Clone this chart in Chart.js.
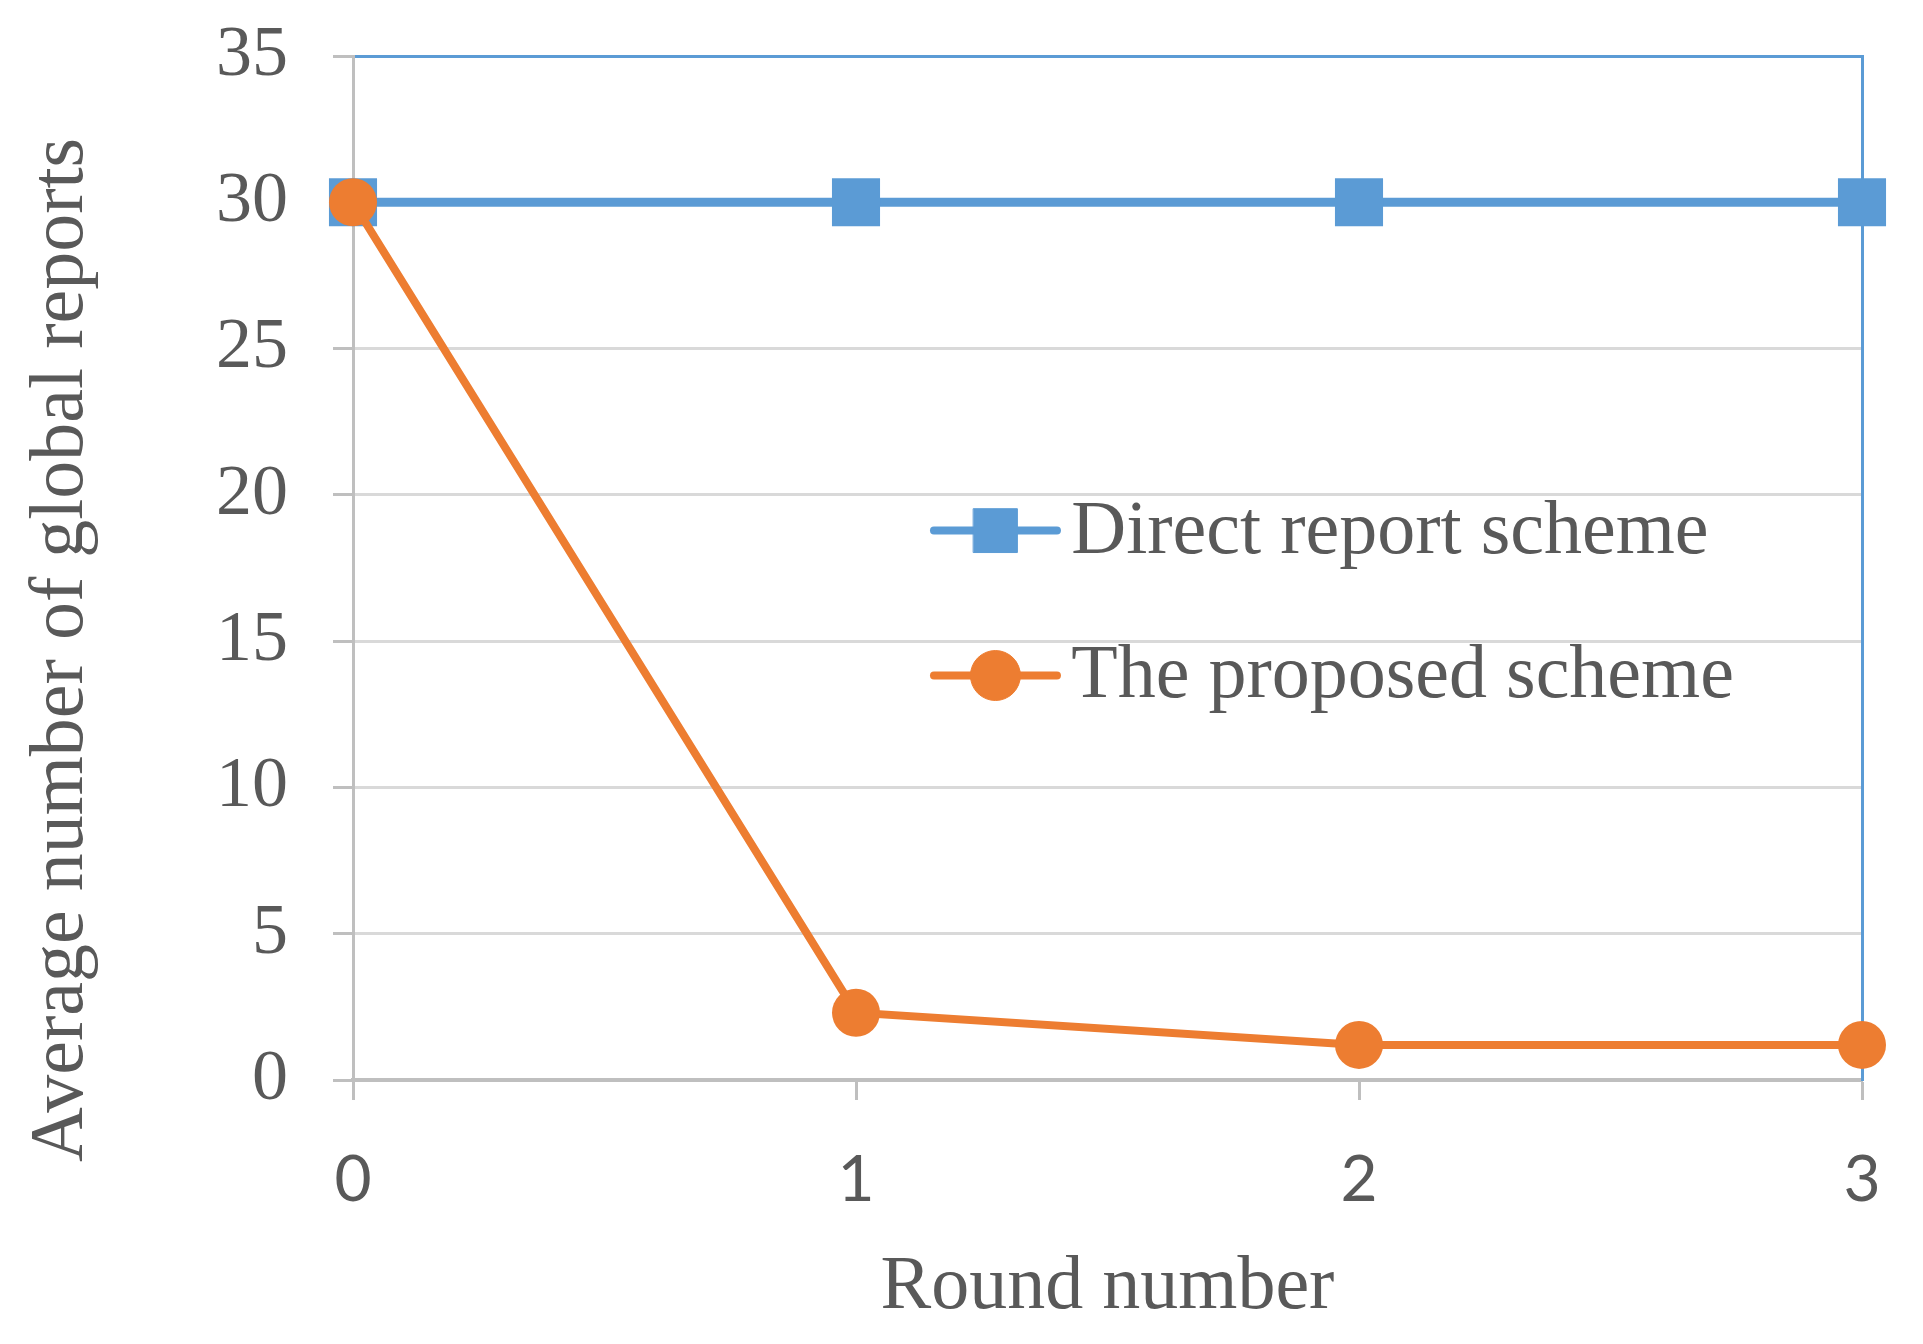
<!DOCTYPE html>
<html>
<head>
<meta charset="utf-8">
<script src="https://cdn.jsdelivr.net/npm/chart.js@4.4.1/dist/chart.umd.min.js"></script>
<style>
  html, body { margin: 0; padding: 0; background: #ffffff; }
  #wrap { width: 1923px; height: 1344px; position: relative; }
</style>
</head>
<body>
<div id="wrap"><canvas id="c" width="1923" height="1344"></canvas></div>
<script>
const roundLabels = ['0', '1', '2', '3'];
const directReport = [30, 30, 30, 30];
const proposedScheme = [30, 2.3, 1.2, 1.2];
const seriesNames = ['Direct report scheme', 'The proposed scheme'];
const yTicks = [0, 5, 10, 15, 20, 25, 30, 35];
const yTitleText = 'Average number of global reports';

const BLUE = '#5B9BD5';
const ORANGE = '#ED7D31';
const TEXT = '#595959';
const SERIF = '"Liberation Serif", "Times New Roman", serif';
const SANS = 'Lato, "Open Sans", sans-serif';

const legendPlugin = {
  id: 'customLegend',
  afterDraw(chart) {
    const ctx = chart.ctx;
    const a = chart.chartArea;
    const w = a.right - a.left, h = a.bottom - a.top;
    const rows = [
      { ds: chart.data.datasets[0], y: a.top + h * 0.4635 },
      { ds: chart.data.datasets[1], y: a.top + h * 0.605 }
    ];
    const x0 = a.left + w * 0.385, x1 = a.left + w * 0.4665, xm = (x0 + x1) / 2, xt = a.left + w * 0.476;
    ctx.save();
    rows.forEach(r => {
      ctx.strokeStyle = r.ds.borderColor;
      ctx.lineWidth = 8;
      ctx.lineCap = 'round';
      ctx.beginPath();
      ctx.moveTo(x0, r.y);
      ctx.lineTo(x1, r.y);
      ctx.stroke();
      ctx.fillStyle = r.ds.pointBackgroundColor;
      ctx.strokeStyle = r.ds.pointBackgroundColor;
      ctx.lineWidth = 1;
      const rad = r.ds.pointStyle === 'rect' ? 31 : 25;
      Chart.helpers.drawPoint(ctx, { pointStyle: r.ds.pointStyle, radius: rad, rotation: 0, borderWidth: 1 }, xm, r.y);
      ctx.fillStyle = TEXT;
      ctx.font = '76px ' + SERIF;
      ctx.textBaseline = 'middle';
      ctx.textAlign = 'left';
      ctx.fillText(r.ds.label, xt, r.y + 2);
    });
    ctx.restore();
  }
};

const yTitlePlugin = {
  id: 'yTitle',
  afterDraw(chart) {
    const ctx = chart.ctx;
    const a = chart.chartArea;
    ctx.save();
    ctx.translate(62, a.top + (a.bottom - a.top) * 0.58);
    ctx.rotate(-Math.PI / 2);
    ctx.fillStyle = TEXT;
    ctx.font = '76px ' + SERIF;
    ctx.textAlign = 'center';
    ctx.textBaseline = 'middle';
    ctx.fillText(yTitleText, 0, 0);
    ctx.restore();
  }
};

new Chart(document.getElementById('c'), {
  type: 'line',
  data: {
    labels: roundLabels,
    datasets: [
      {
        label: seriesNames[0],
        data: directReport,
        borderColor: BLUE,
        backgroundColor: BLUE,
        pointBackgroundColor: BLUE,
        pointBorderColor: BLUE,
        pointStyle: 'rect',
        pointRadius: 34,
        pointBorderWidth: 0,
        borderWidth: 9,
        tension: 0,
        clip: false,
        order: 2
      },
      {
        label: seriesNames[1],
        data: proposedScheme,
        borderColor: ORANGE,
        backgroundColor: ORANGE,
        pointBackgroundColor: ORANGE,
        pointBorderColor: ORANGE,
        pointStyle: 'circle',
        pointRadius: 24,
        pointBorderWidth: 0,
        borderWidth: 8,
        tension: 0,
        clip: false,
        order: 1
      }
    ]
  },
  options: {
    responsive: false,
    animation: false,
    devicePixelRatio: 1,
    layout: { padding: { left: 0, right: 61, top: 56, bottom: 0 } },
    plugins: { legend: { display: false }, tooltip: { enabled: false } },
    scales: {
      x: {
        type: 'category',
        offset: false,
        position: 'bottom',
        border: { display: true, color: '#BFBFBF', width: 4 },
        grid: { drawOnChartArea: false, drawTicks: true, tickLength: 20, tickColor: '#BFBFBF', tickWidth: 3 },
        ticks: { color: TEXT, font: { family: SANS, size: 64 }, padding: 42, maxRotation: 0 },
        title: { display: true, text: 'Round number', color: TEXT, font: { family: SERIF, size: 76, lineHeight: 1 }, padding: { top: 0, bottom: 18 } },
        afterFit(s) { s.height = 264; }
      },
      xTop: {
        type: 'category',
        position: 'top',
        offset: false,
        border: { display: true, color: BLUE, width: 3 },
        grid: { display: false, drawTicks: false },
        ticks: { display: false },
        afterFit(s) { s.height = 0; }
      },
      y: {
        min: 0, max: 35,
        position: 'left',
        afterBuildTicks(s) { s.ticks = yTicks.map(v => ({ value: v })); },
        border: { display: true, color: '#BFBFBF', width: 3 },
        grid: { color: '#D9D9D9', lineWidth: 3, tickLength: 20, tickColor: '#BFBFBF', tickWidth: 3 },
        ticks: { color: TEXT, font: { family: SERIF, size: 72, lineHeight: 0.5 }, padding: 45 },
        afterFit(s) { s.width = 353; s.paddingTop = 0; s.paddingBottom = 0; }
      },
      yRight: {
        min: 0, max: 35,
        position: 'right',
        border: { display: true, color: BLUE, width: 3 },
        grid: { display: false, drawTicks: false },
        ticks: { display: false },
        afterFit(s) { s.width = 0; }
      }
    }
  },
  plugins: [legendPlugin, yTitlePlugin]
});
</script>
</body>
</html>
